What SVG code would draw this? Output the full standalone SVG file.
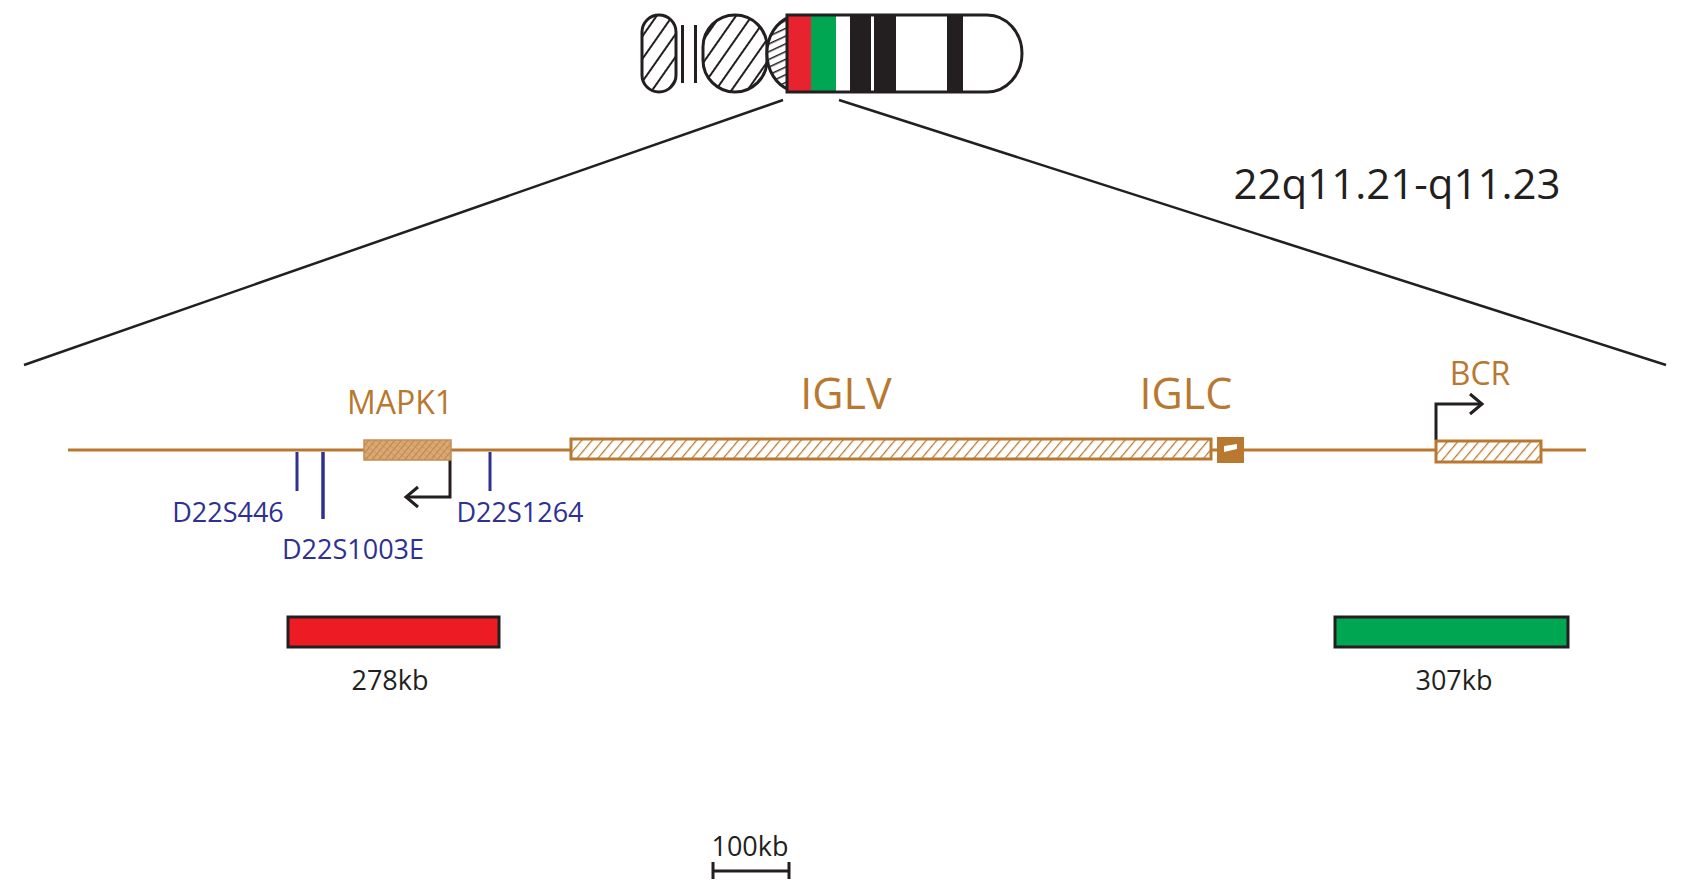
<svg xmlns="http://www.w3.org/2000/svg" width="1689" height="894" viewBox="0 0 1689 894">
<style>
.tan{fill:#b9782f;font-family:"Open Sans","Noto Sans",sans-serif}
.blue{fill:#2e3192;font-family:"Open Sans","Noto Sans",sans-serif;font-size:27px}
.blk{fill:#231f20;font-family:"Open Sans","Noto Sans",sans-serif}
.ol{fill:none;stroke:#231f20;stroke-width:3}
</style>
<defs>
<pattern id="h1" patternUnits="userSpaceOnUse" width="13" height="13" patternTransform="rotate(35)"><rect width="13" height="13" fill="#fff"/><line x1="0" y1="0" x2="0" y2="13" stroke="#231f20" stroke-width="4"/></pattern>
<pattern id="h2" patternUnits="userSpaceOnUse" width="7" height="7" patternTransform="rotate(65)"><rect width="7" height="7" fill="#fff"/><line x1="0" y1="0" x2="0" y2="7" stroke="#231f20" stroke-width="3"/></pattern>
<pattern id="ht" patternUnits="userSpaceOnUse" width="8" height="8" patternTransform="rotate(40)"><rect width="8" height="8" fill="#fff"/><line x1="0" y1="0" x2="0" y2="8" stroke="#b9782f" stroke-width="2.5"/></pattern>
<pattern id="hx" patternUnits="userSpaceOnUse" width="5" height="5" patternTransform="rotate(40)"><rect width="5" height="5" fill="#d9a877"/><line x1="0" y1="0" x2="0" y2="5" stroke="#b9782f" stroke-width="1.5"/><line x1="0" y1="0" x2="5" y2="0" stroke="#c48d55" stroke-width="1"/></pattern>
<clipPath id="body"><path d="M787,15 H987 A35,38.5 0 0 1 987,92 H787 Z"/></clipPath>
<marker id="ah" markerWidth="18" markerHeight="24" refX="15" refY="12" orient="auto" markerUnits="userSpaceOnUse"><path d="M3,2 L15,12 L3,22" fill="none" stroke="#231f20" stroke-width="3"/></marker>
</defs>
<g id="chromosome">
<rect x="642" y="15" width="34" height="77" rx="17" fill="url(#h1)" stroke="#231f20" stroke-width="3"/>
<rect x="681" y="25" width="3" height="58" fill="#231f20"/>
<rect x="694" y="25" width="3" height="58" fill="#231f20"/>
<rect x="703" y="15" width="64" height="77" rx="32" fill="url(#h1)" stroke="#231f20" stroke-width="3"/>
<path d="M790,17 A32,38 0 0 0 790,90 Z" fill="url(#h2)" stroke="#231f20" stroke-width="3"/>
<g clip-path="url(#body)">
<rect x="785" y="10" width="250" height="90" fill="#fff"/>
<rect x="785" y="10" width="26" height="90" fill="#e92230"/>
<rect x="811" y="10" width="25" height="90" fill="#00a651"/>
<rect x="850" y="10" width="21" height="90" fill="#231f20"/>
<rect x="874" y="10" width="22" height="90" fill="#231f20"/>
<rect x="947" y="10" width="16" height="90" fill="#231f20"/>
</g>
<path d="M787,15 H987 A35,38.5 0 0 1 987,92 H787 Z" class="ol"/>
</g>
<g id="connectors">
<line x1="783" y1="100" x2="24" y2="365" stroke="#231f20" stroke-width="2.5"/>
<line x1="839" y1="100" x2="1666" y2="365" stroke="#231f20" stroke-width="2.5"/>
<line x1="68" y1="450" x2="1586" y2="450" stroke="#b9782f" stroke-width="3"/>
<polyline points="450,460 450,497 406,497" fill="none" stroke="#231f20" stroke-width="3" marker-end="url(#ah)"/>
<polyline points="1436,440 1436,404 1482,404" fill="none" stroke="#231f20" stroke-width="3" marker-end="url(#ah)"/>
</g>
<text x="1397" y="199" class="blk" font-size="42" text-anchor="middle">22q11.21-q11.23</text>
<g id="MAPK1">
<rect x="364" y="440" width="87" height="20" fill="url(#hx)" stroke="#c48d55" stroke-width="1.5"/>
<text x="400" y="414" class="tan" font-size="32" text-anchor="middle">MAPK1</text>
</g>
<g id="markers">
<line x1="297" y1="452" x2="297" y2="491" stroke="#2e3192" stroke-width="3"/>
<line x1="323" y1="452" x2="323" y2="519" stroke="#2e3192" stroke-width="3.5"/>
<line x1="490" y1="452" x2="490" y2="491" stroke="#2e3192" stroke-width="3"/>
<text x="228" y="522" class="blue" text-anchor="middle">D22S446</text>
<text x="353" y="559" class="blue" text-anchor="middle">D22S1003E</text>
<text x="520" y="522" class="blue" text-anchor="middle">D22S1264</text>
</g>
<g id="IGLV">
<rect x="571" y="439" width="640" height="20" fill="url(#ht)" stroke="#b9782f" stroke-width="3"/>
<text x="846" y="409" class="tan" font-size="43" text-anchor="middle">IGLV</text>
</g>
<g id="IGLC">
<rect x="1217" y="437" width="27" height="26" fill="#b9782f"/>
<path d="M1224,446 L1237,444 L1237,449 L1224,452 Z" fill="#fff"/>
<text x="1186" y="409" class="tan" font-size="43" text-anchor="middle">IGLC</text>
</g>
<g id="BCR">
<rect x="1436" y="441" width="105" height="21" fill="url(#ht)" stroke="#b9782f" stroke-width="3"/>
<text x="1480" y="385" class="tan" font-size="32" text-anchor="middle">BCR</text>
</g>
<g id="probe278">
<rect x="288" y="617" width="211" height="30" fill="#ed1c24" stroke="#231f20" stroke-width="3"/>
<text x="390" y="690" class="blk" font-size="27" text-anchor="middle">278kb</text>
</g>
<g id="probe307">
<rect x="1335" y="617" width="233" height="30" fill="#00a651" stroke="#231f20" stroke-width="3"/>
<text x="1454" y="690" class="blk" font-size="27" text-anchor="middle">307kb</text>
</g>
<g id="scale">
<path d="M713,862 V879 M713,871 H789 M789,862 V879" fill="none" stroke="#231f20" stroke-width="3"/>
<text x="750" y="856" class="blk" font-size="27" text-anchor="middle">100kb</text>
</g>
</svg>
